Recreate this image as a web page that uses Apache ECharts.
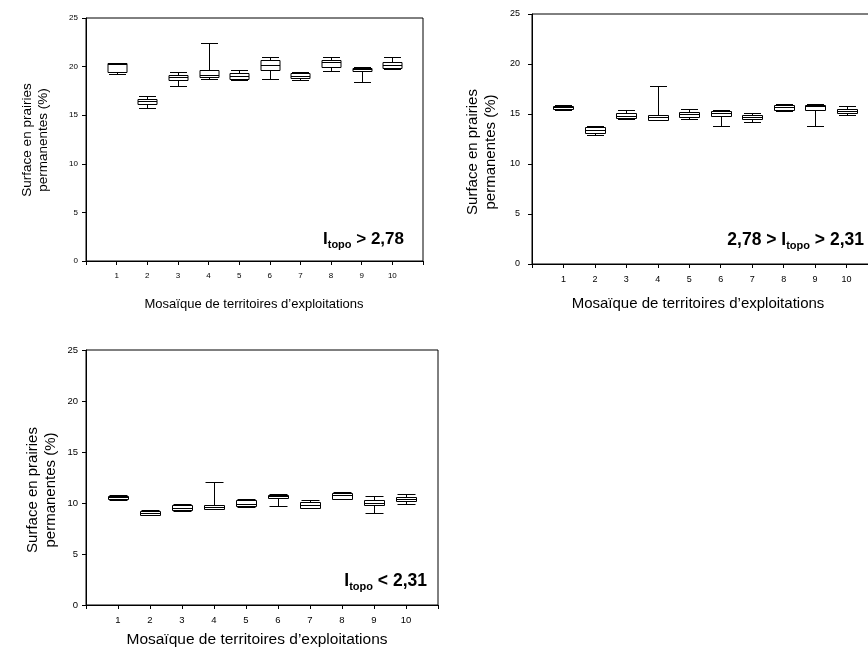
<!DOCTYPE html>
<html>
<head>
<meta charset="utf-8">
<script src="https://cdn.jsdelivr.net/npm/echarts@6/dist/echarts.min.js"></script>
<style>
html,body{margin:0;padding:0;background:#fff;}
#chart{width:868px;height:654px;}
</style>
</head>
<body>
<div id="chart"></div>
<script>
// ---- data ----
const categories = ['1','2','3','4','5','6','7','8','9','10'];
const yMin = 0, yMax = 25, yStep = 5;

// Panel 1 : Itopo > 2,78
const p1Min = [19.25, 15.7, 18.0, 18.7, 18.6, 18.7, 18.65, 19.55, 18.4, 19.75];
const p1Q1  = [19.4, 16.2, 18.6, 18.9, 18.7, 19.6, 18.8, 20.0, 19.5, 19.9];
const p1Med = [20.25, 16.5, 18.9, 19.15, 19.0, 20.15, 19.05, 20.45, 19.8, 20.15];
const p1Q3  = [20.35, 16.7, 19.15, 19.6, 19.3, 20.7, 19.3, 20.7, 19.9, 20.45];
const p1Max = [20.4, 17.0, 19.4, 22.4, 19.7, 21.0, 19.4, 21.0, 20.0, 21.0];

// Panel 2 : 2,78 > Itopo > 2,31
const p2Min = [15.4, 12.95, 14.55, 14.4, 14.5, 13.85, 14.25, 15.35, 13.8, 14.95];
const p2Q1  = [15.5, 13.15, 14.6, 14.45, 14.75, 14.85, 14.55, 15.45, 15.45, 15.15];
const p2Med = [15.7, 13.45, 14.8, 14.75, 15.05, 15.1, 14.75, 15.7, 15.8, 15.35];
const p2Q3  = [15.85, 13.7, 15.1, 14.95, 15.25, 15.35, 14.95, 15.9, 15.9, 15.55];
const p2Max = [15.95, 13.8, 15.45, 17.85, 15.55, 15.45, 15.15, 16.0, 16.05, 15.8];

// Panel 3 : Itopo < 2,31
const p3Min = [10.3, 8.8, 9.2, 9.4, 9.65, 9.75, 9.5, 10.35, 9.05, 9.95];
const p3Q1  = [10.4, 8.85, 9.35, 9.45, 9.75, 10.45, 9.55, 10.4, 9.8, 10.15];
const p3Med = [10.6, 9.05, 9.55, 9.6, 9.9, 10.7, 9.85, 10.8, 10.0, 10.4];
const p3Q3  = [10.7, 9.25, 9.85, 9.85, 10.25, 10.8, 10.05, 10.95, 10.3, 10.6];
const p3Max = [10.75, 9.3, 9.95, 12.1, 10.35, 10.9, 10.25, 11.05, 10.7, 10.85];

const yTitle = 'Surface en prairies\npermanentes (%)';
const xTitle = 'Mosaïque de territoires d’exploitations';
const FONT = '"Liberation Sans", Arial, sans-serif';

function build(mins, q1s, meds, q3s, maxs) {
  return categories.map((c, i) => [i + 1, mins[i], q1s[i], meds[i], q3s[i], maxs[i]]);
}

function cr(v) { return Math.round(v) + 0.5; }

function renderBox(params, api) {
  const x = api.value(0);
  const lo = api.coord([x, api.value(1)]);
  const q1 = api.coord([x, api.value(2)]);
  const md = api.coord([x, api.value(3)]);
  const q3 = api.coord([x, api.value(4)]);
  const hi = api.coord([x, api.value(5)]);
  const unit = api.size([1, 0])[0];
  const bw = Math.round(unit * 0.62);
  const cw = Math.round(unit * 0.55);
  const cx = cr(lo[0]);
  const st = { stroke: '#000', lineWidth: 1, fill: null };
  const yl = cr(lo[1]), y1 = cr(q1[1]), ym = cr(md[1]), y3 = cr(q3[1]), yh = cr(hi[1]);
  return {
    type: 'group',
    children: [
      { type: 'line', shape: { x1: cx, y1: yh, x2: cx, y2: y3 }, style: st },
      { type: 'line', shape: { x1: cx, y1: y1, x2: cx, y2: yl }, style: st },
      { type: 'line', shape: { x1: cx - cw / 2, y1: yh, x2: cx + cw / 2, y2: yh }, style: st },
      { type: 'line', shape: { x1: cx - cw / 2, y1: yl, x2: cx + cw / 2, y2: yl }, style: st },
      { type: 'rect', shape: { x: cx - bw / 2, y: y3, width: bw, height: Math.max(1, y1 - y3) },
        style: { stroke: '#000', lineWidth: 1, fill: '#fff' } },
      { type: 'line', shape: { x1: cx - bw / 2, y1: ym, x2: cx + bw / 2, y2: ym }, style: st }
    ]
  };
}

const panels = [
  { grid: { left: 86, top: 18, width: 337, height: 243 }, data: build(p1Min, p1Q1, p1Med, p1Q3, p1Max), tick: 8, ymargin: 8, xmargin: 11 },
  { grid: { left: 532, top: 14, width: 346, height: 250 }, data: build(p2Min, p2Q1, p2Med, p2Q3, p2Max), tick: 9, ymargin: 12, xmargin: 11 },
  { grid: { left: 86, top: 350, width: 352, height: 255 }, data: build(p3Min, p3Q1, p3Med, p3Q3, p3Max), tick: 9.5, ymargin: 8, xmargin: 10 }
];

const option = {
  backgroundColor: '#fff',
  animation: false,
  grid: panels.map(p => Object.assign({ show: true, borderColor: '#000', borderWidth: 1, backgroundColor: 'transparent', containLabel: false, outerBoundsMode: 'none' }, p.grid)),
  xAxis: panels.map((p, i) => ({
    type: 'value', gridIndex: i, min: 0, max: categories.length + 1, interval: 1,
    axisLine: { show: true, onZero: false, lineStyle: { color: '#000', width: 1 } },
    axisTick: { show: true, inside: false, length: 4, lineStyle: { color: '#000' } },
    axisLabel: { fontSize: p.tick, fontFamily: FONT, color: '#000', margin: p.xmargin,
      formatter: v => (v >= 1 && v <= categories.length) ? categories[v - 1] : '' },
    splitLine: { show: false }
  })),
  yAxis: panels.map((p, i) => ({
    type: 'value', gridIndex: i, min: yMin, max: yMax, interval: yStep,
    axisLine: { show: true, onZero: false, lineStyle: { color: '#000', width: 1 } },
    axisTick: { show: true, inside: false, length: 4, lineStyle: { color: '#000' } },
    axisLabel: { fontSize: p.tick, fontFamily: FONT, color: '#000', margin: p.ymargin },
    splitLine: { show: false }
  })),
  series: panels.map((p, i) => ({
    type: 'custom', xAxisIndex: i, yAxisIndex: i,
    renderItem: renderBox,
    encode: { x: 0, y: [1, 2, 3, 4, 5] },
    data: p.data,
    clip: false
  })),
  graphic: [
    // y-axis titles
    { type: 'text', x: 35, y: 140, rotation: Math.PI / 2,
      style: { text: yTitle, fontSize: 13.5, fontFamily: FONT, fill: '#000', align: 'center', verticalAlign: 'middle', lineHeight: 16 } },
    { type: 'text', x: 482, y: 152, rotation: Math.PI / 2,
      style: { text: yTitle, fontSize: 15, fontFamily: FONT, fill: '#000', align: 'center', verticalAlign: 'middle', lineHeight: 18 } },
    { type: 'text', x: 42, y: 490, rotation: Math.PI / 2,
      style: { text: yTitle, fontSize: 15, fontFamily: FONT, fill: '#000', align: 'center', verticalAlign: 'middle', lineHeight: 18 } },
    // x-axis titles
    { type: 'text', x: 254, y: 304,
      style: { text: xTitle, fontSize: 13, fontFamily: FONT, fill: '#000', align: 'center', verticalAlign: 'middle' } },
    { type: 'text', x: 698, y: 304,
      style: { text: xTitle, fontSize: 15, fontFamily: FONT, fill: '#000', align: 'center', verticalAlign: 'middle' } },
    { type: 'text', x: 257, y: 640,
      style: { text: xTitle, fontSize: 15.5, fontFamily: FONT, fill: '#000', align: 'center', verticalAlign: 'middle' } },
    // annotations
    { type: 'text', x: 404, y: 239,
      style: { text: '{b|I}{s|topo}{b| > 2,78}', align: 'right', verticalAlign: 'middle',
        rich: { b: { fontSize: 17, fontWeight: 'bold', fontFamily: FONT, fill: '#000', lineHeight: 22 },
                s: { fontSize: 11, fontWeight: 'bold', fontFamily: FONT, fill: '#000', lineHeight: 8, verticalAlign: 'bottom' } } } },
    { type: 'text', x: 864, y: 240,
      style: { text: '{b|2,78 > I}{s|topo}{b| > 2,31}', align: 'right', verticalAlign: 'middle',
        rich: { b: { fontSize: 17.5, fontWeight: 'bold', fontFamily: FONT, fill: '#000', lineHeight: 22 },
                s: { fontSize: 11, fontWeight: 'bold', fontFamily: FONT, fill: '#000', lineHeight: 8, verticalAlign: 'bottom' } } } },
    { type: 'text', x: 427, y: 581,
      style: { text: '{b|I}{s|topo}{b| < 2,31}', align: 'right', verticalAlign: 'middle',
        rich: { b: { fontSize: 17.5, fontWeight: 'bold', fontFamily: FONT, fill: '#000', lineHeight: 22 },
                s: { fontSize: 11, fontWeight: 'bold', fontFamily: FONT, fill: '#000', lineHeight: 8, verticalAlign: 'bottom' } } } }
  ]
};

const chart = echarts.init(document.getElementById('chart'), null, { renderer: 'canvas' });
chart.setOption(option);
</script>
</body>
</html>
